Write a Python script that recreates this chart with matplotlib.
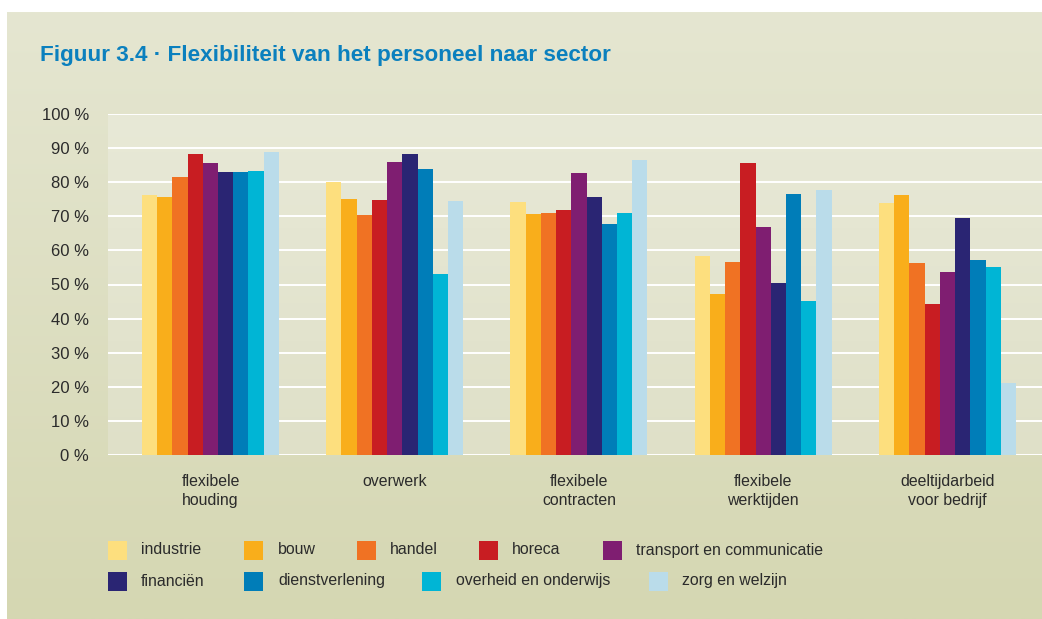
import numpy as np
import matplotlib.pyplot as plt
from matplotlib.patches import Rectangle
from matplotlib.colors import LinearSegmentedColormap

plt.rcParams['font.family'] = ['Liberation Sans', 'DejaVu Sans']

# data
categories = ['flexibele\nhouding', 'overwerk', 'flexibele\ncontracten',
              'flexibele\nwerktijden', 'deeltijdarbeid\nvoor bedrijf']
sectors = ['industrie', 'bouw', 'handel', 'horeca', 'transport en communicatie',
           'financiën', 'dienstverlening', 'overheid en onderwijs', 'zorg en welzijn']
industrie = [76.2, 80.1, 74.2, 58.4, 73.9]
bouw = [75.7, 75.1, 70.7, 47.2, 76.2]
handel = [81.5, 70.4, 71.0, 56.6, 56.3]
horeca = [88.3, 74.8, 71.8, 85.6, 44.3]
transport = [85.6, 85.9, 82.7, 66.9, 53.7]
financien = [83.0, 88.3, 75.7, 50.4, 69.5]
dienstverlening = [83.0, 83.9, 67.7, 76.5, 57.2]
overheid = [83.3, 53.1, 71.0, 45.2, 55.1]
zorg = [88.9, 74.5, 86.5, 77.7, 21.1]
yticks = [0, 10, 20, 30, 40, 50, 60, 70, 80, 90, 100]

series = [industrie, bouw, handel, horeca, transport, financien,
          dienstverlening, overheid, zorg]
colors = ['#FDDF7E', '#F9AE1B', '#F07223', '#C81D22', '#7F1E71',
          '#2A2573', '#007DB8', '#00B5D5', '#BADCEA']

W, H = 1042, 619
fig = plt.figure(figsize=(W / 100, H / 100), dpi=100)
fig.patch.set_facecolor('white')

# background panel (pixel coordinates)
bg = fig.add_axes([0, 0, 1, 1])
bg.set_xlim(0, W)
bg.set_ylim(H, 0)
bg.axis('off')
panel_cmap = LinearSegmentedColormap.from_list('panel', ['#E5E6D1', '#D5D7B2'])
grad = np.linspace(0, 1, 256).reshape(-1, 1)
bg.imshow(grad, cmap=panel_cmap, extent=[7, W, H, 12], aspect='auto', zorder=0)

bg.text(40, 55, 'Figuur 3.4 · Flexibiliteit van het personeel naar sector',
        color='#0B80BE', fontsize=16.2, fontweight='bold', va='center', ha='left')

# main axes
left, right, top, bottom = 108, W, 114, 455
ax = fig.add_axes([left / W, 1 - bottom / H, (right - left) / W, (bottom - top) / H])
ax.set_facecolor('none')
x = np.arange(len(categories))
width = 0.0826
ax.set_xlim(-0.556, len(categories) - 1 + 0.513)
ax.set_ylim(0, 100)

plot_cmap = LinearSegmentedColormap.from_list('plot', ['#DFE0C8', '#E8E9D7'])
ax.imshow(grad, cmap=plot_cmap, extent=[-0.556, 4.513, 0, 100], aspect='auto',
          origin='lower', zorder=0)

for v in yticks:
    ax.axhline(v, color='white', lw=1.4, zorder=1)

for i, (vals, c) in enumerate(zip(series, colors)):
    offs = (i - 4) * width
    ax.bar(x + offs, vals, width=width, color=c, zorder=3, linewidth=0)

for s in ax.spines.values():
    s.set_visible(False)
ax.set_yticks(yticks)
ax.set_yticklabels([f'{v} %' for v in yticks])
ax.set_xticks(x)
ax.set_xticklabels(categories, linespacing=1.3)
ax.tick_params(axis='y', length=0, pad=13.5, labelsize=12, labelcolor='#2B2B2B')
ax.tick_params(axis='x', length=0, pad=14, labelsize=11.4, labelcolor='#2B2B2B')

# legend, laid out as in the original
leg_pos = [(108, 141), (244, 278), (357, 390), (479, 512), (603, 636),
           (108, 141), (244, 278), (422, 456), (649, 682)]
leg_rows = [550, 550, 550, 550, 550, 581, 581, 581, 581]
for name, c, (sx, tx), yy in zip(sectors, colors, leg_pos, leg_rows):
    bg.add_patch(Rectangle((sx, yy - 9.5), 19, 19, color=c, lw=0, zorder=2))
    bg.text(tx, yy, name, fontsize=11.4, color='#2B2B2B', va='center', ha='left')

fig.savefig('out.png', dpi=100)
